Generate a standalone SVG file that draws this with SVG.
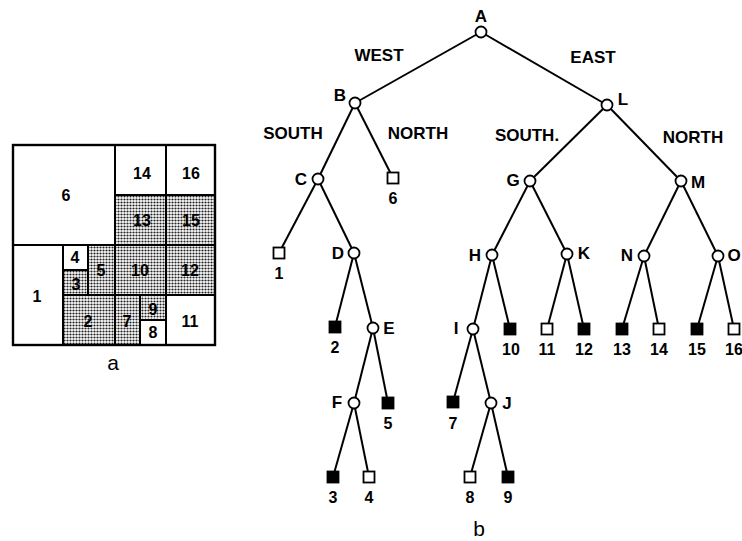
<svg xmlns="http://www.w3.org/2000/svg" width="742" height="541" viewBox="0 0 742 541">
<defs>
<pattern id="dots" width="3" height="3" patternUnits="userSpaceOnUse">
<rect width="3" height="3" fill="#fff"/>
<circle cx="1.5" cy="1.5" r="1.1" fill="#222"/>
</pattern>
<style>
.t{font-family:"Liberation Sans",Arial,sans-serif;font-weight:bold;font-size:17px;fill:#000;text-anchor:middle}
.n{font-family:"Liberation Sans",Arial,sans-serif;font-weight:bold;font-size:16px;fill:#000;text-anchor:middle}
.cap{font-family:"Liberation Sans",Arial,sans-serif;font-size:21px;fill:#000;text-anchor:middle}
.cell{fill:#fff;stroke:#000;stroke-width:2}
.dot{fill:url(#dots);stroke:#000;stroke-width:2}
.e{stroke:#000;stroke-width:2;fill:none}
.c{fill:#fff;stroke:#000;stroke-width:1.8}
.o{fill:#fff;stroke:#000;stroke-width:1.8}
.f{fill:#000;stroke:#000;stroke-width:1.8}
</style>
</defs>
<rect width="742" height="541" fill="#fff"/>

<g id="panel-a">
<rect class="cell" x="13" y="145" width="102" height="100"/>
<rect class="cell" x="115" y="145" width="51" height="50"/>
<rect class="cell" x="166" y="145" width="49" height="50"/>
<rect class="dot" x="115" y="195" width="51" height="50"/>
<rect class="dot" x="166" y="195" width="49" height="50"/>
<rect class="cell" x="13" y="245" width="50" height="100"/>
<rect class="cell" x="63" y="245" width="25" height="25"/>
<rect class="dot" x="63" y="270" width="25" height="25"/>
<rect class="dot" x="88" y="245" width="27" height="50"/>
<rect class="dot" x="115" y="245" width="51" height="50"/>
<rect class="dot" x="166" y="245" width="49" height="50"/>
<rect class="dot" x="63" y="295" width="52" height="50"/>
<rect class="dot" x="115" y="295" width="25" height="50"/>
<rect class="dot" x="140" y="295" width="26" height="25"/>
<rect class="cell" x="140" y="320" width="26" height="25"/>
<rect class="cell" x="166" y="295" width="49" height="50"/>
<rect x="13" y="145" width="202" height="200" fill="none" stroke="#000" stroke-width="2.4"/>
<text class="n" x="66" y="201">6</text>
<text class="n" x="142" y="179">14</text>
<text class="n" x="191" y="179">16</text>
<text class="n" x="142" y="226">13</text>
<text class="n" x="191" y="226">15</text>
<text class="n" x="75" y="263">4</text>
<text class="n" x="76" y="290">3</text>
<text class="n" x="101" y="276">5</text>
<text class="n" x="140" y="276">10</text>
<text class="n" x="190" y="276">12</text>
<text class="n" x="37" y="302">1</text>
<text class="n" x="88" y="327">2</text>
<text class="n" x="127" y="327">7</text>
<text class="n" x="153" y="315">9</text>
<text class="n" x="153" y="338">8</text>
<text class="n" x="190" y="327">11</text>
<text class="cap" x="113" y="370">a</text>
</g>

<g id="connectors">
<line class="e" x1="481" y1="32" x2="355" y2="103"/>
<line class="e" x1="481" y1="32" x2="607" y2="105"/>
<line class="e" x1="355" y1="103" x2="318" y2="179"/>
<line class="e" x1="355" y1="103" x2="393" y2="178"/>
<line class="e" x1="318" y1="179" x2="279" y2="253"/>
<line class="e" x1="318" y1="179" x2="354" y2="253"/>
<line class="e" x1="354" y1="253" x2="335" y2="327"/>
<line class="e" x1="354" y1="253" x2="373" y2="328"/>
<line class="e" x1="373" y1="328" x2="354" y2="403"/>
<line class="e" x1="373" y1="328" x2="388" y2="403"/>
<line class="e" x1="354" y1="403" x2="333" y2="477"/>
<line class="e" x1="354" y1="403" x2="369" y2="477"/>
<line class="e" x1="607" y1="105" x2="530" y2="181"/>
<line class="e" x1="607" y1="105" x2="681" y2="181"/>
<line class="e" x1="530" y1="181" x2="492" y2="255"/>
<line class="e" x1="530" y1="181" x2="567" y2="254"/>
<line class="e" x1="492" y1="255" x2="473" y2="329"/>
<line class="e" x1="492" y1="255" x2="510" y2="329"/>
<line class="e" x1="473" y1="329" x2="453" y2="402"/>
<line class="e" x1="473" y1="329" x2="491" y2="403"/>
<line class="e" x1="491" y1="403" x2="470" y2="477"/>
<line class="e" x1="491" y1="403" x2="508" y2="477"/>
<line class="e" x1="567" y1="254" x2="547" y2="329"/>
<line class="e" x1="567" y1="254" x2="584" y2="329"/>
<line class="e" x1="681" y1="181" x2="644" y2="256"/>
<line class="e" x1="681" y1="181" x2="718" y2="256"/>
<line class="e" x1="644" y1="256" x2="622" y2="329"/>
<line class="e" x1="644" y1="256" x2="659" y2="329"/>
<line class="e" x1="718" y1="256" x2="697" y2="329"/>
<line class="e" x1="718" y1="256" x2="734" y2="329"/>
</g>

<g id="edge-labels">
<text class="t" x="379" y="61">WEST</text>
<text class="t" x="593" y="63">EAST</text>
<text class="t" x="293" y="139">SOUTH</text>
<text class="t" x="418" y="139">NORTH</text>
<text class="t" x="527" y="141">SOUTH.</text>
<text class="t" x="693" y="143">NORTH</text>
</g>

<g id="node-A"><circle class="c" cx="481" cy="32" r="5.5"/><text class="t" x="481" y="22">A</text></g>
<g id="node-B"><circle class="c" cx="355" cy="103" r="5.5"/><text class="t" x="340" y="101">B</text></g>
<g id="node-C"><circle class="c" cx="318" cy="179" r="5.5"/><text class="t" x="301" y="185">C</text></g>
<g id="node-D"><circle class="c" cx="354" cy="253" r="5.5"/><text class="t" x="338" y="259">D</text></g>
<g id="node-E"><circle class="c" cx="373" cy="328" r="5.5"/><text class="t" x="389" y="334">E</text></g>
<g id="node-F"><circle class="c" cx="354" cy="403" r="5.5"/><text class="t" x="337" y="408">F</text></g>
<g id="node-L"><circle class="c" cx="607" cy="105" r="5.5"/><text class="t" x="623" y="105">L</text></g>
<g id="node-G"><circle class="c" cx="530" cy="181" r="5.5"/><text class="t" x="513" y="186">G</text></g>
<g id="node-M"><circle class="c" cx="681" cy="181" r="5.5"/><text class="t" x="698" y="188">M</text></g>
<g id="node-H"><circle class="c" cx="492" cy="255" r="5.5"/><text class="t" x="475" y="261">H</text></g>
<g id="node-K"><circle class="c" cx="567" cy="254" r="5.5"/><text class="t" x="584" y="259">K</text></g>
<g id="node-N"><circle class="c" cx="644" cy="256" r="5.5"/><text class="t" x="627" y="261">N</text></g>
<g id="node-O"><circle class="c" cx="718" cy="256" r="5.5"/><text class="t" x="734" y="261">O</text></g>
<g id="node-I"><circle class="c" cx="473" cy="329" r="5.5"/><text class="t" x="456" y="334">I</text></g>
<g id="node-J"><circle class="c" cx="491" cy="403" r="5.5"/><text class="t" x="507" y="409">J</text></g>

<g id="leaf-1"><rect class="o" x="273.5" y="247.5" width="11" height="11"/><text class="n" x="279" y="279">1</text></g>
<g id="leaf-6"><rect class="o" x="387.5" y="172.5" width="11" height="11"/><text class="n" x="393" y="204">6</text></g>
<g id="leaf-2"><rect class="f" x="329.5" y="321.5" width="11" height="11"/><text class="n" x="335" y="353">2</text></g>
<g id="leaf-5"><rect class="f" x="382.5" y="397.5" width="11" height="11"/><text class="n" x="388" y="429">5</text></g>
<g id="leaf-3"><rect class="f" x="327.5" y="471.5" width="11" height="11"/><text class="n" x="333" y="503">3</text></g>
<g id="leaf-4"><rect class="o" x="363.5" y="471.5" width="11" height="11"/><text class="n" x="369" y="503">4</text></g>
<g id="leaf-10"><rect class="f" x="504.5" y="323.5" width="11" height="11"/><text class="n" x="511" y="355">10</text></g>
<g id="leaf-11"><rect class="o" x="541.5" y="323.5" width="11" height="11"/><text class="n" x="547" y="355">11</text></g>
<g id="leaf-12"><rect class="f" x="578.5" y="323.5" width="11" height="11"/><text class="n" x="584" y="355">12</text></g>
<g id="leaf-13"><rect class="f" x="616.5" y="323.5" width="11" height="11"/><text class="n" x="622" y="355">13</text></g>
<g id="leaf-14"><rect class="o" x="653.5" y="323.5" width="11" height="11"/><text class="n" x="659" y="355">14</text></g>
<g id="leaf-15"><rect class="f" x="691.5" y="323.5" width="11" height="11"/><text class="n" x="697" y="355">15</text></g>
<g id="leaf-16"><rect class="o" x="728.5" y="323.5" width="11" height="11"/><text class="n" x="734" y="355">16</text></g>
<g id="leaf-7"><rect class="f" x="447.5" y="396.5" width="11" height="11"/><text class="n" x="453" y="429">7</text></g>
<g id="leaf-8"><rect class="o" x="464.5" y="471.5" width="11" height="11"/><text class="n" x="470" y="503">8</text></g>
<g id="leaf-9"><rect class="f" x="502.5" y="471.5" width="11" height="11"/><text class="n" x="508" y="503">9</text></g>

<text class="cap" x="479" y="536">b</text>
</svg>
